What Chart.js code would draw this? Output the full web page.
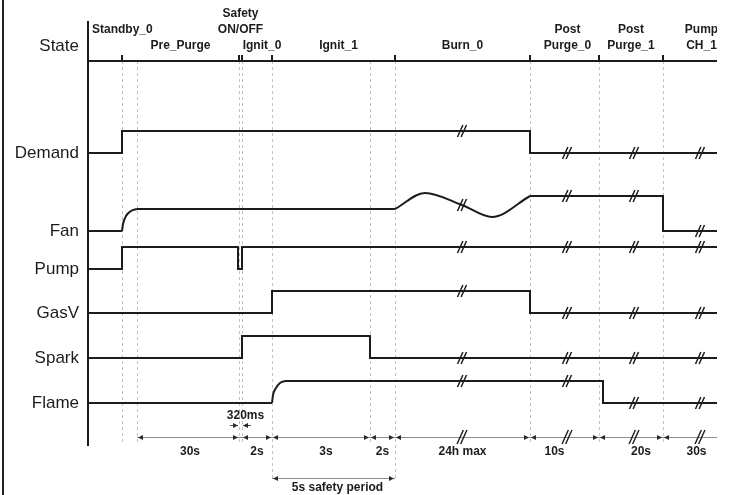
<!DOCTYPE html>
<html>
<head>
<meta charset="utf-8">
<script src="https://cdn.jsdelivr.net/npm/chart.js@4.4.1/dist/chart.umd.min.js"></script>
<style>
  html, body { margin: 0; padding: 0; background: #fff; }
  #wrap { position: relative; width: 731px; height: 495px; }
  #frame { position: absolute; left: 2px; top: 0; width: 2px; height: 495px; background: #222; }
</style>
</head>
<body>
<div id="wrap">
  <canvas id="timing-chart" width="731" height="495"></canvas>
  <div id="frame"></div>
</div>
<script>
// x = position along the (broken) timeline, y = signal level, both in diagram units
const laneNames = ['State', 'Demand', 'Fan', 'Pump', 'GasV', 'Spark', 'Flame'];
const laneTicks = [399, 292, 214, 176, 132, 87, 42];

const stateNames = ['Standby_0', 'Pre_Purge', 'Safety ON/OFF', 'Ignit_0', 'Ignit_1', 'Burn_0', 'Post Purge_0', 'Post Purge_1', 'Pump CH_1'];
const stateEdges = [0, 34, 151, 154, 184, 307, 442, 511, 575, 652];
const stateLine = [[0, 384], [629, 384]];

const demand = [[0, 292], [34, 292], [34, 314], [442, 314], [442, 292], [629, 292]];
const fanStart = [[0, 214], [34, 214]];
const fanRise = [[34, 214], [35, 221], [38, 229], [43, 234], [49, 236]];
const fanHold = [[49, 236], [307, 236]];
const fanSwing = [[307, 236], [337, 252], [374, 240], [404, 228], [442, 249]];
const fanEnd = [[442, 249], [575, 249], [575, 214], [629, 214]];
const pump = [[0, 176], [34, 176], [34, 198], [150, 198], [150, 176], [154, 176], [154, 198], [629, 198]];
const gasV = [[0, 132], [184, 132], [184, 154], [442, 154], [442, 132], [629, 132]];
const spark = [[0, 87], [154, 87], [154, 109], [282, 109], [282, 87], [629, 87]];
const flameStart = [[0, 42], [184, 42]];
const flameRise = [[184, 42], [185, 50], [188, 57], [192, 62], [197, 64]];
const flameEnd = [[197, 64], [515, 64], [515, 42], [629, 42]];

const breakX = [374, 479, 546, 612];
const guideX = [34, 49, 151, 154, 184, 282, 307, 442, 511, 575];
const guideLong = [184, 307];

const spanLabels = ['30s', '2s', '3s', '2s', '24h max', '10s', '20s', '30s'];
const spanEdges = [[49, 151], [154, 184], [184, 282], [282, 307], [307, 442], [442, 511], [511, 575], [575, 652]];
const safetySpan = [184, 307];
const safetyLabel = '5s safety period';
const pulseSpan = [151, 154];
const pulseLabel = '320ms';

const font = "'Liberation Sans', Arial, sans-serif";
const ink = '#1c1c1c';

// label tweaks (layout only)
const stateStyle = {
  'Standby_0': { lift: 1, left: true },
  'Safety ON/OFF': { lift: 1 },
  'Ignit_0': { dx: 5 },
  'Ignit_1': { dx: 5 },
  'Post Purge_0': { dx: 3 }
};
const spanNudge = [2, 0, 5, 0, 0, -10, 10, -5];

function trace(pts, curved) {
  return {
    data: pts.map(([x, y]) => ({ x, y })),
    borderColor: ink,
    borderWidth: 2,
    pointRadius: 0,
    fill: false,
    tension: 0,
    cubicInterpolationMode: curved ? 'monotone' : 'default',
    borderJoinStyle: 'miter'
  };
}

function arrowHead(ctx, tipX, tipY, dir) {
  ctx.beginPath();
  ctx.moveTo(tipX, tipY);
  ctx.lineTo(tipX - dir * 5, tipY - 2.5);
  ctx.lineTo(tipX - dir * 5, tipY + 2.5);
  ctx.closePath();
  ctx.fill();
}

function breakMark(ctx, px, py, h) {
  ctx.beginPath();
  [-1.8, 1.8].forEach(o => {
    ctx.moveTo(px + o - h * 0.45, py + h);
    ctx.lineTo(px + o + h * 0.45, py - h);
  });
  ctx.stroke();
}

function levelAt(pts, xv) {
  for (let i = 0; i < pts.length - 1; i++) {
    const [x0, y0] = pts[i], [x1, y1] = pts[i + 1];
    if (x1 > x0 && xv >= x0 && xv <= x1) return y0 + (y1 - y0) * (xv - x0) / (x1 - x0);
  }
  return null;
}

const signalTraces = [
  demand,
  fanStart.concat(fanRise, fanHold, fanSwing, fanEnd),
  pump,
  gasV,
  spark,
  flameStart.concat(flameRise, flameEnd)
];

const timingPlugin = {
  id: 'timing',
  beforeDatasetsDraw(chart) {
    const { ctx, scales: { x, y } } = chart;
    ctx.save();
    ctx.strokeStyle = '#c2c2c2';
    ctx.lineWidth = 1;
    ctx.setLineDash([3, 3]);
    guideX.forEach(g => {
      const px = Math.round(x.getPixelForValue(g)) + 0.5;
      ctx.beginPath();
      ctx.moveTo(px, y.getPixelForValue(stateLine[0][1]));
      ctx.lineTo(px, y.getPixelForValue(guideLong.includes(g) ? -34 : 2));
      ctx.stroke();
    });
    ctx.restore();
  },
  afterDatasetsDraw(chart) {
    const { ctx, chartArea: area, scales: { x, y } } = chart;
    const X = v => x.getPixelForValue(v);
    const Y = v => y.getPixelForValue(v);
    ctx.save();
    ctx.beginPath();
    ctx.rect(0, 0, area.right, chart.height);
    ctx.clip();

    // ticks on the state line
    ctx.strokeStyle = ink;
    ctx.lineWidth = 2;
    stateEdges.slice(1, -1).forEach(e => {
      ctx.beginPath();
      ctx.moveTo(X(e), Y(stateLine[0][1]));
      ctx.lineTo(X(e), Y(stateLine[0][1]) - 6);
      ctx.stroke();
    });

    // state names
    ctx.fillStyle = ink;
    ctx.font = 'bold 12px ' + font;
    ctx.textBaseline = 'middle';
    stateNames.forEach((name, i) => {
      const st = stateStyle[name] || {};
      const lines = name.split(' ');
      const base = Y(laneTicks[0]) - (st.lift || 0) * 16;
      let cx = (X(stateEdges[i]) + X(stateEdges[i + 1])) / 2 + (st.dx || 0);
      ctx.textAlign = 'center';
      if (st.left) { cx = X(stateEdges[i]) + 4; ctx.textAlign = 'left'; }
      lines.forEach((t, k) => ctx.fillText(t, cx, base - (lines.length - 1 - k) * 16));
    });

    // break marks on the signals
    ctx.lineWidth = 1.5;
    signalTraces.forEach(pts => {
      breakX.forEach(b => {
        const lv = levelAt(pts, b);
        if (lv !== null) breakMark(ctx, X(b), Y(lv), 6);
      });
    });

    // duration line
    const dimY = Y(8);
    ctx.strokeStyle = '#8c8c8c';
    ctx.lineWidth = 1;
    ctx.beginPath();
    ctx.moveTo(X(spanEdges[0][0]), dimY + 0.5);
    ctx.lineTo(area.right, dimY + 0.5);
    ctx.stroke();
    ctx.fillStyle = '#2a2a2a';
    spanEdges.forEach(([a, b]) => {
      arrowHead(ctx, X(a) + 1, dimY + 0.5, -1);
      arrowHead(ctx, X(b) - 1, dimY + 0.5, 1);
    });
    ctx.strokeStyle = ink;
    ctx.lineWidth = 1.4;
    breakX.forEach(b => breakMark(ctx, X(b), dimY, 7));
    ctx.fillStyle = ink;
    ctx.textAlign = 'center';
    spanLabels.forEach((t, i) => {
      const [a, b] = spanEdges[i];
      ctx.fillText(t, (X(a) + X(b)) / 2 + spanNudge[i], Y(-7));
    });

    // 320ms pulse
    const pY = Y(20) + 0.5;
    ctx.strokeStyle = '#555';
    ctx.lineWidth = 1;
    ctx.beginPath();
    ctx.moveTo(X(pulseSpan[0]) - 9, pY); ctx.lineTo(X(pulseSpan[0]) - 1, pY);
    ctx.moveTo(X(pulseSpan[1]) + 1, pY); ctx.lineTo(X(pulseSpan[1]) + 9, pY);
    ctx.stroke();
    ctx.fillStyle = '#2a2a2a';
    arrowHead(ctx, X(pulseSpan[0]) - 1, pY, 1);
    arrowHead(ctx, X(pulseSpan[1]) + 1, pY, -1);
    ctx.fillStyle = ink;
    ctx.fillText(pulseLabel, (X(pulseSpan[0]) + X(pulseSpan[1])) / 2 + 5, Y(29));

    // safety period
    const sY = Y(-33) + 0.5;
    ctx.strokeStyle = '#8c8c8c';
    ctx.beginPath();
    ctx.moveTo(X(safetySpan[0]), sY); ctx.lineTo(X(safetySpan[1]), sY);
    ctx.stroke();
    ctx.fillStyle = '#2a2a2a';
    arrowHead(ctx, X(safetySpan[0]) + 1, sY, -1);
    arrowHead(ctx, X(safetySpan[1]) - 1, sY, 1);
    ctx.fillStyle = ink;
    ctx.fillText(safetyLabel, (X(safetySpan[0]) + X(safetySpan[1])) / 2 + 4, Y(-43));

    ctx.restore();
  }
};

new Chart(document.getElementById('timing-chart'), {
  type: 'line',
  data: {
    datasets: [
      trace(stateLine),
      trace(demand),
      trace(fanStart), trace(fanRise, true), trace(fanHold), trace(fanSwing, true), trace(fanEnd),
      trace(pump),
      trace(gasV),
      trace(spark),
      trace(flameStart), trace(flameRise, true), trace(flameEnd)
    ]
  },
  options: {
    responsive: false,
    animation: false,
    devicePixelRatio: 1,
    layout: { padding: { left: 0, right: 14, top: 22, bottom: 50 } },
    plugins: { legend: { display: false }, tooltip: { enabled: false } },
    scales: {
      x: { type: 'linear', min: 0, max: 629, display: false },
      y: {
        min: 0,
        max: 423,
        afterFit: s => { s.width = 88; },
        afterBuildTicks: s => { s.ticks = laneTicks.map(v => ({ value: v })); },
        ticks: {
          autoSkip: false,
          padding: 9,
          color: ink,
          font: { size: 17, family: font },
          callback: v => laneNames[laneTicks.indexOf(v)]
        },
        grid: { display: false, drawTicks: false },
        border: { display: true, color: ink, width: 2 }
      }
    }
  },
  plugins: [timingPlugin]
});
</script>
</body>
</html>
